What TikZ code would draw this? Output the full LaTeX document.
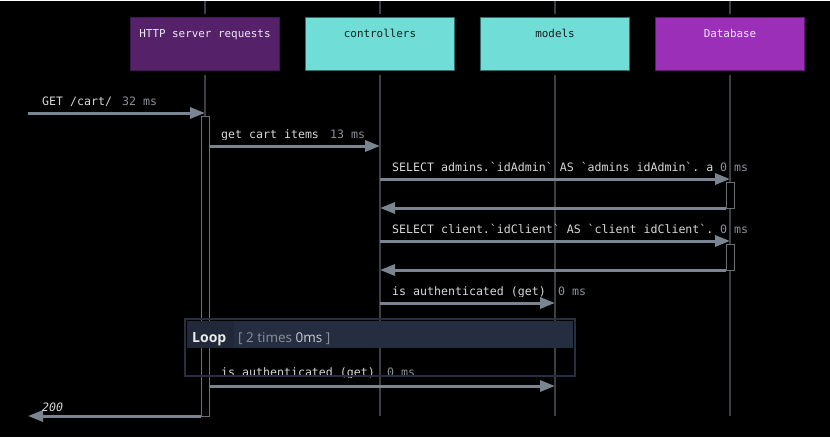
\documentclass[tikz,border=0pt]{standalone}
\usepackage{fontspec}
\setmonofont{DejaVu Sans Mono}
\setsansfont{Open Sans}
\usetikzlibrary{arrows.meta,positioning}
\definecolor{lifegrey}{HTML}{3C3F45}
\definecolor{bargrey}{HTML}{6B6E73}
\definecolor{arrowgrey}{HTML}{7B8591}
\definecolor{labelgrey}{HTML}{D8D8D8}
\definecolor{msgrey}{HTML}{8A9199}
\definecolor{hsfill}{HTML}{55226A}
\definecolor{hsedge}{HTML}{3E1650}
\definecolor{tealfill}{HTML}{70DDD6}
\definecolor{tealedge}{HTML}{2F6E6A}
\definecolor{dbfill}{HTML}{9B2FB8}
\definecolor{dbedge}{HTML}{5E1A70}
\definecolor{loopedge}{HTML}{262E42}
\definecolor{loophead}{HTML}{252D40}
\definecolor{loopcell}{HTML}{212839}
\tikzset{
  head/.style={rectangle, minimum width=149pt, inner xsep=0pt, inner ysep=0pt,
    text height=20pt, text depth=33pt, line width=1pt,
    font=\ttfamily\fontsize{10.9}{13}\selectfont},
  lifeline/.style={draw=lifegrey, line width=2pt},
  actbar/.style={draw=bargrey, fill=black, line width=1pt, minimum width=8pt, inner sep=0pt},
  msgarrow/.style={draw=arrowgrey, line width=3pt, -{Triangle[length=15pt,width=11pt]}},
  msgtext/.style={anchor=base west, inner sep=0pt, text=labelgrey,
    font=\ttfamily\fontsize{11.6}{14}\selectfont},
  mstext/.style={msgtext, text=msgrey}
}
% name, x, baseline, text, x of time, time
\newcommand{\msglabel}[6]{%
  \begin{scope}
    \clip (0,0) rectangle (830,#3+1);
    \node[msgtext] (#1) at (#2,#3) {#4};
    \node[mstext] (#1ms) at (#5,#3) {#6};
  \end{scope}}
\begin{document}
\begin{tikzpicture}[x=1pt,y=-1pt]
    \fill[black] (0,0) rectangle (830,436);
    \coordinate (top) at (0,0);
    \coordinate (bottom) at (0,415);
    \coordinate (client) at (28,0);
    \node[head, fill=hsfill, draw=hsedge, text={white!90!hsfill}] (hs) at (205,42.5) {HTTP server requests};
    \node[head, fill=tealfill, draw=tealedge, text={black!85!tealfill}] (ctl) at (380,42.5) {controllers};
    \node[head, fill=tealfill, draw=tealedge, text={black!85!tealfill}] (mdl) at (555,42.5) {models};
    \node[head, fill=dbfill, draw=dbedge, text={white!88!dbfill}] (db) at (730,42.5) {Database};
    \foreach \n in {hs,ctl,mdl,db}{
        \draw[lifeline] ([yshift=3pt]\n.north) -- (\n.north |- top);
        \draw[lifeline] ([yshift=-4pt]\n.south) -- (\n.south |- bottom);
    }
    \node[actbar, anchor=north, minimum height=300pt] (hsact) at (205,115) {};
    \node[actbar, anchor=north, minimum height=26pt] (dbact1) at (730,181) {};
    \node[actbar, anchor=north, minimum height=26pt] (dbact2) at (730,243) {};
    \coordinate (r1) at (0,112);
    \coordinate (r2) at (0,145);
    \coordinate (r3) at (0,178);
    \coordinate (r4) at (0,207);
    \coordinate (r5) at (0,240);
    \coordinate (r6) at (0,269);
    \coordinate (r7) at (0,302);
    \coordinate (r8) at (0,385);
    \coordinate (r9) at (0,415);
    \draw[msgarrow] (client |- r1) -- (hs |- r1);
    \draw[msgarrow] (hsact.east |- r2) -- (ctl |- r2);
    \draw[msgarrow] (ctl |- r3) -- (db |- r3);
    \draw[msgarrow] (dbact1.west |- r4) -- (ctl |- r4);
    \draw[msgarrow] (ctl |- r5) -- (db |- r5);
    \draw[msgarrow] (dbact2.west |- r6) -- (ctl |- r6);
    \draw[msgarrow] (ctl |- r7) -- (mdl |- r7);
    \draw[msgarrow] (hsact.east |- r8) -- (mdl |- r8);
    \draw[msgarrow] (hsact.west |- r9) -- (client |- r9);
    \msglabel{t1}{42}{104}{GET /cart/}{122}{32 ms}
    \msglabel{t2}{221}{137}{get cart items}{330}{13 ms}
    \msglabel{t3}{392}{170}{SELECT admins.`idAdmin` AS `admins idAdmin`. a}{720}{0 ms}
    \msglabel{t5}{392}{232}{SELECT client.`idClient` AS `client idClient`.}{720}{0 ms}
    \msglabel{t7}{392}{294}{is authenticated (get)}{558}{0 ms}
    \msglabel{t8}{221}{375.5}{is authenticated (get)}{387}{0 ms}
    \node[msgtext, font=\ttfamily\itshape\fontsize{11.6}{14}\selectfont] (t9) at (42,410) {200};
    \draw[loopedge, line width=2pt] (185,318) rectangle (575,375);
    \fill[loophead] (187,320) rectangle (573,347);
    \fill[loopcell] (187,320) rectangle (234,347);
    \node[anchor=base west, inner sep=0pt, text={white!90!loophead},
        font=\sffamily\bfseries\fontsize{14}{16}\selectfont] (loopname) at (192,341) {Loop};
    \node[anchor=base west, inner sep=0pt, text={msgrey},
        font=\sffamily\fontsize{13.5}{15}\selectfont] (looptimes) at (238,341) {[ 2 times {\color{labelgrey!85!msgrey}0ms} ]};
\end{tikzpicture}
\end{document}
